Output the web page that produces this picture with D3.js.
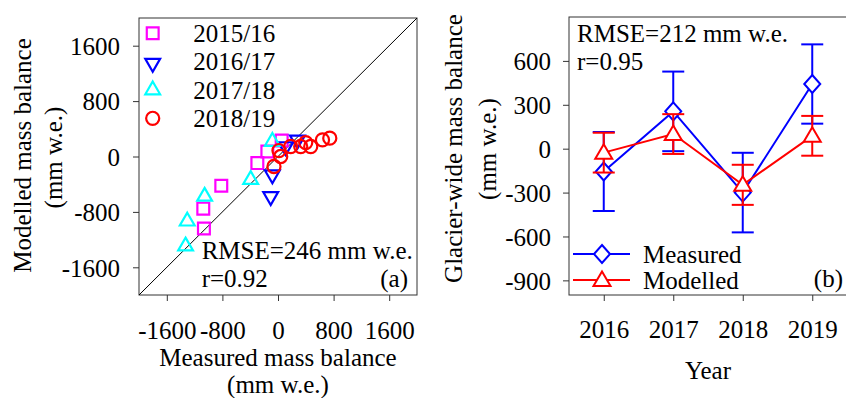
<!DOCTYPE html>
<html><head><meta charset="utf-8">
<script src="https://cdn.jsdelivr.net/npm/d3@7"></script>
<style>body{margin:0;background:#fff}svg text{font-family:"Liberation Serif","Times New Roman",serif;fill:#000}</style>
</head><body>
<svg id="c" width="846" height="398"></svg>
<script>
// ---- Panel (a) data: measured vs modelled (mm w.e.)
const seriesNames = ["2015/16", "2016/17", "2017/18", "2018/19"];
const meas1516 = [53, -153, -297, -816, -1075, -1066];
const mod1516  = [230, 72, -95, -422, -753, -1040];
const meas1617 = [-105, -81, 111, 280];
const mod1617  = [-576, -263, 144, 240];
const meas1718 = [-81, -393, -1056, -1306, -1330];
const mod1718  = [216, -335, -576, -935, -1295];
const meas1819 = [-58, 39, 14, 183, 327, 399, 471, 640, 745];
const mod1819  = [-144, 0, 86, 144, 144, 201, 144, 240, 265];
const ticksA = [-1600, -800, 0, 800, 1600];

// ---- Panel (b) data
const years = [2016, 2017, 2018, 2019];
const measuredMB = [-156, 255, -300, 442];
const measuredErr = [270, 272, 272, 271];
const modelledMB = [-27, 100, -247, 88];
const modelledErr = [136, 136, 137, 136];
const ticksBy = [600, 300, 0, -300, -600, -900];

const svg = d3.select("#c");
const FS = 25;
const fmt = d => String(d);

// ================= Panel (a) =================
const xa = d3.scaleLinear().domain([-2000, 2000]).range([139, 417]);
const ya = d3.scaleLinear().domain([-2000, 2000]).range([295, 18]);
const ga = svg.append("g");

ga.append("rect").attr("x", 139).attr("y", 18).attr("width", 278).attr("height", 277)
  .attr("fill", "none").attr("stroke", "#333").attr("stroke-width", 1);

const axYa = ga.append("g").attr("transform", "translate(139,0)")
  .call(d3.axisLeft(ya).tickValues(ticksA).tickSize(6).tickFormat(fmt));
axYa.select(".domain").remove();
axYa.selectAll("line").attr("stroke", "#333");
axYa.selectAll("text").attr("x", -19).attr("dy", "0.35em").style("font-size", FS + "px").attr("font-family", null);

const axXa = ga.append("g").attr("transform", "translate(0,295)")
  .call(d3.axisBottom(xa).tickValues(ticksA).tickSize(6).tickFormat(fmt));
axXa.select(".domain").remove();
axXa.selectAll("line").attr("stroke", "#333");
axXa.selectAll("text").attr("y", 35).attr("dy", "0.35em").style("font-size", FS + "px").attr("font-family", null);

// 1:1 line
ga.append("line").attr("x1", xa(-2000)).attr("y1", ya(-2000)).attr("x2", xa(2000)).attr("y2", ya(2000))
  .attr("stroke", "#000").attr("stroke-width", 1);

const sq = d3.symbol().type(d3.symbolSquare).size(140);
const tri = d3.symbol().type(d3.symbolTriangle).size(95);
const circ = d3.symbol().type(d3.symbolCircle).size(135);

const specs = [
  {name: seriesNames[0], mx: meas1516, my: mod1516, color: "#ff00ff", sym: sq, rot: 0},
  {name: seriesNames[1], mx: meas1617, my: mod1617, color: "#0000ff", sym: tri, rot: 180},
  {name: seriesNames[2], mx: meas1718, my: mod1718, color: "#00ffff", sym: tri, rot: 0},
  {name: seriesNames[3], mx: meas1819, my: mod1819, color: "#ff0000", sym: circ, rot: 0}
];
specs.forEach(s => {
  ga.append("g").selectAll("path").data(s.mx.map((v, i) => [v, s.my[i]])).join("path")
    .attr("d", s.sym())
    .attr("transform", d => `translate(${xa(d[0])},${ya(d[1])}) rotate(${s.rot})`)
    .attr("fill", "none").attr("stroke", s.color).attr("stroke-width", 2.2);
});

// legend (a)
const legYs = [33.3, 61.7, 90, 118.3];
specs.forEach((s, i) => {
  ga.append("path").attr("d", s.sym())
    .attr("transform", `translate(152.7,${legYs[i] + (s.rot === 180 ? 1.5 : 0)}) rotate(${s.rot})`)
    .attr("fill", "none").attr("stroke", s.color).attr("stroke-width", 2.2);
  ga.append("text").attr("x", 193.3).attr("y", legYs[i]).attr("dy", "0.35em")
    .style("font-size", FS + "px").text(s.name);
});

ga.append("text").attr("x", 201.7).attr("y", 250).attr("dy", "0.35em").style("font-size", FS + "px").text("RMSE=246 mm w.e.");
ga.append("text").attr("x", 201.7).attr("y", 278).attr("dy", "0.35em").style("font-size", FS + "px").text("r=0.92");
ga.append("text").attr("x", 408).attr("y", 278).attr("dy", "0.35em").attr("text-anchor", "end").style("font-size", FS + "px").text("(a)");

// axis titles (a)
ga.append("text").attr("transform", "translate(22.7,155.5) rotate(-90)").attr("text-anchor", "middle").attr("dy", "0.35em")
  .style("font-size", FS + "px").text("Modelled mass balance");
ga.append("text").attr("transform", "translate(53.3,157.5) rotate(-90)").attr("text-anchor", "middle").attr("dy", "0.35em")
  .style("font-size", FS + "px").text("(mm w.e.)");
ga.append("text").attr("x", 278).attr("y", 357).attr("text-anchor", "middle").attr("dy", "0.35em")
  .style("font-size", FS + "px").text("Measured mass balance");
ga.append("text").attr("x", 278).attr("y", 384).attr("text-anchor", "middle").attr("dy", "0.35em")
  .style("font-size", FS + "px").text("(mm w.e.)");

// ================= Panel (b) =================
const xb = d3.scaleLinear().domain([2015.5, 2019.5]).range([569, 847]);
const yb = d3.scaleLinear().domain([-1000, 900]).range([295, 17]);
const gb = svg.append("g");

gb.append("rect").attr("x", 569).attr("y", 17).attr("width", 278).attr("height", 278)
  .attr("fill", "none").attr("stroke", "#333").attr("stroke-width", 1);

const axYb = gb.append("g").attr("transform", "translate(569,0)")
  .call(d3.axisLeft(yb).tickValues(ticksBy).tickSize(6).tickFormat(fmt));
axYb.select(".domain").remove();
axYb.selectAll("line").attr("stroke", "#333");
axYb.selectAll("text").attr("x", -18).attr("dy", "0.35em").style("font-size", FS + "px").attr("font-family", null);

const axXb = gb.append("g").attr("transform", "translate(0,295)")
  .call(d3.axisBottom(xb).tickValues(years).tickSize(6).tickFormat(fmt));
axXb.select(".domain").remove();
axXb.selectAll("line").attr("stroke", "#333");
axXb.selectAll("text").attr("y", 34.5).attr("dy", "0.35em").style("font-size", FS + "px").attr("font-family", null);

const line = d3.line().x((d, i) => xb(years[i])).y(d => yb(d));
const diamond = "M0,-9L8,0L0,9L-8,0Z";
const triUp = "M0,-8.5L8.5,6L-8.5,6Z";
const capW = 11;

function drawSeries(vals, errs, color, markerPath) {
  const g = gb.append("g");
  years.forEach((yr, i) => {
    const x = xb(yr), y1 = yb(vals[i] + errs[i]), y2 = yb(vals[i] - errs[i]);
    g.append("line").attr("x1", x).attr("x2", x).attr("y1", y1).attr("y2", y2).attr("stroke", color).attr("stroke-width", 2);
    g.append("line").attr("x1", x - capW).attr("x2", x + capW).attr("y1", y1).attr("y2", y1).attr("stroke", color).attr("stroke-width", 2);
    g.append("line").attr("x1", x - capW).attr("x2", x + capW).attr("y1", y2).attr("y2", y2).attr("stroke", color).attr("stroke-width", 2);
  });
  g.append("path").datum(vals).attr("d", line).attr("fill", "none").attr("stroke", color).attr("stroke-width", 2);
  g.selectAll("path.m").data(vals).join("path").attr("class", "m")
    .attr("d", markerPath).attr("transform", (d, i) => `translate(${xb(years[i])},${yb(d)})`)
    .attr("fill", "#fff").attr("stroke", color).attr("stroke-width", 2);
}
drawSeries(measuredMB, measuredErr, "#0000ff", diamond);
drawSeries(modelledMB, modelledErr, "#ff0000", triUp);

// legend (b)
[["Measured", "#0000ff", diamond, 254], ["Modelled", "#ff0000", triUp, 280]].forEach(([t, c, m, y]) => {
  gb.append("line").attr("x1", 573).attr("x2", 630).attr("y1", y).attr("y2", y).attr("stroke", c).attr("stroke-width", 2);
  gb.append("path").attr("d", m).attr("transform", `translate(602,${y})`).attr("fill", "#fff").attr("stroke", c).attr("stroke-width", 2);
  gb.append("text").attr("x", 643).attr("y", y).attr("dy", "0.35em").style("font-size", FS + "px").text(t);
});

gb.append("text").attr("x", 577).attr("y", 33).attr("dy", "0.35em").style("font-size", FS + "px").text("RMSE=212 mm w.e.");
gb.append("text").attr("x", 577).attr("y", 61.7).attr("dy", "0.35em").style("font-size", FS + "px").text("r=0.95");
gb.append("text").attr("x", 843).attr("y", 278).attr("dy", "0.35em").attr("text-anchor", "end").style("font-size", FS + "px").text("(b)");

gb.append("text").attr("transform", "translate(453.3,148.5) rotate(-90)").attr("text-anchor", "middle").attr("dy", "0.35em")
  .style("font-size", FS + "px").text("Glacier-wide mass balance");
gb.append("text").attr("transform", "translate(487.3,149) rotate(-90)").attr("text-anchor", "middle").attr("dy", "0.35em")
  .style("font-size", FS + "px").text("(mm w.e.)");
gb.append("text").attr("x", 708).attr("y", 370).attr("text-anchor", "middle").attr("dy", "0.35em")
  .style("font-size", FS + "px").text("Year");
</script>
</body></html>
